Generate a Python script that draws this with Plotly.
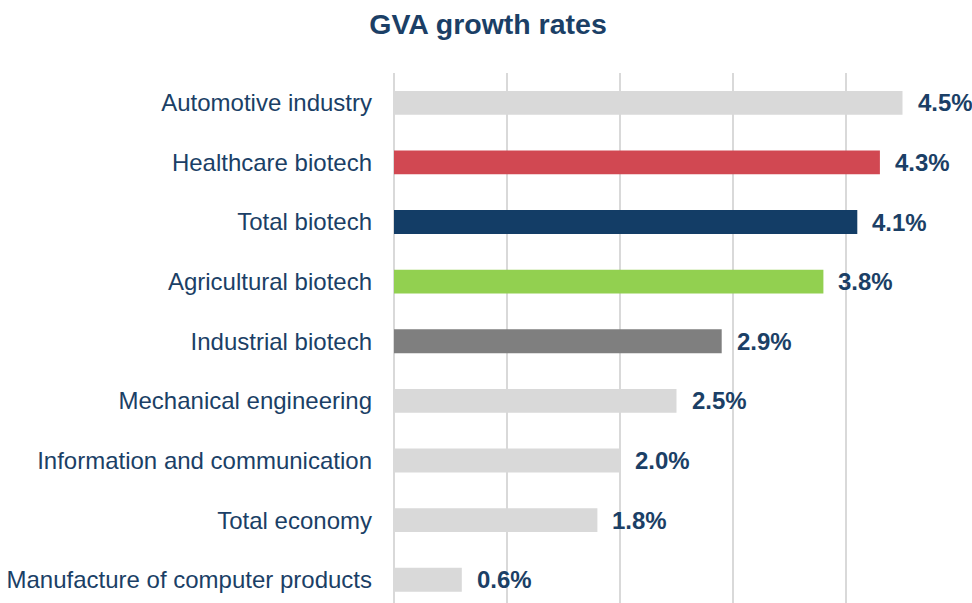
import plotly.graph_objects as go

# --- Données (du haut vers le bas) ---
secteurs = [
    "Automotive industry",
    "Healthcare biotech",
    "Total biotech",
    "Agricultural biotech",
    "Industrial biotech",
    "Mechanical engineering",
    "Information and communication",
    "Total economy",
    "Manufacture of computer products",
]
taux_croissance = [4.5, 4.3, 4.1, 3.8, 2.9, 2.5, 2.0, 1.8, 0.6]
couleurs_barres = [
    "#D9D9D9", "#D14852", "#133D66", "#92D050", "#7F7F7F",
    "#D9D9D9", "#D9D9D9", "#D9D9D9", "#D9D9D9",
]
etiquettes = [f"{v:.1f}%" for v in taux_croissance]

BLEU_TEXTE = "#1B3F66"
POLICE = "Liberation Sans, Arial, sans-serif"

LARGEUR, HAUTEUR = 972, 603

fig = go.Figure()

fig.add_trace(go.Bar(
    x=taux_croissance,
    y=secteurs,
    orientation="h",
    marker=dict(color=couleurs_barres, line=dict(width=0)),
    width=0.4,
    hoverinfo="x+y",
))

# Étiquettes de valeur à droite des barres
for secteur, val, txt in zip(secteurs, taux_croissance, etiquettes):
    fig.add_annotation(
        x=val, y=secteur, text=f"<b>{txt}</b>",
        showarrow=False, xanchor="left", yanchor="middle",
        xshift=13,
        font=dict(size=24, color=BLEU_TEXTE, family=POLICE),
    )

fig.update_layout(
    width=LARGEUR,
    height=HAUTEUR,
    title=dict(
        text="<b>GVA growth rates</b>",
        x=488 / LARGEUR, xanchor="center",
        y=1 - 24 / HAUTEUR, yanchor="middle",
        font=dict(size=28.5, color=BLEU_TEXTE, family=POLICE),
    ),
    margin=dict(l=394, r=13, t=73, b=0),
    plot_bgcolor="white",
    paper_bgcolor="white",
    showlegend=False,
    xaxis=dict(
        range=[0, 5],
        dtick=1,
        showgrid=True,
        gridcolor="#D9D9D9",
        gridwidth=2,
        showticklabels=False,
        zeroline=True,
        zerolinecolor="#D9D9D9",
        zerolinewidth=2,
        showline=False,
    ),
    yaxis=dict(
        categoryorder="array",
        categoryarray=secteurs,
        range=[8.39, -0.5],
        showgrid=False,
        ticks="",
        ticklabelstandoff=21,
        tickfont=dict(size=24, color=BLEU_TEXTE, family=POLICE),
    ),
)

# Supprime la marge par défaut de la page pour que la figure commence en (0, 0)
fig.write_html(
    "out.html",
    config={"displayModeBar": False},
    post_script="document.body.style.margin='0';document.body.style.overflow='hidden';",
)
